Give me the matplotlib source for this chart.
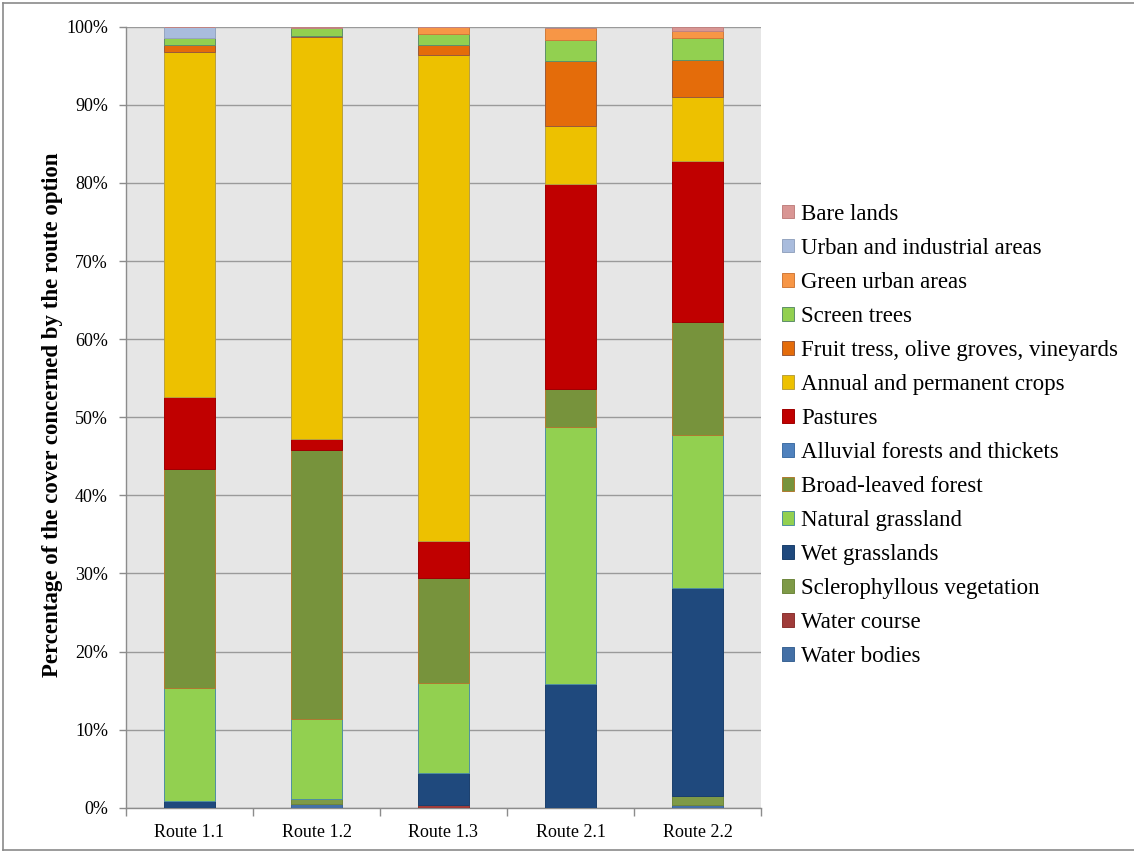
import matplotlib
matplotlib.use("Agg")
import matplotlib.pyplot as plt
import numpy as np
from matplotlib.patches import Patch
from matplotlib.lines import Line2D
from matplotlib.ticker import PercentFormatter, FixedLocator

routes = ["Route 1.1", "Route 1.2", "Route 1.3", "Route 2.1", "Route 2.2"]

# Land-cover shares (% of the corridor) per route, bottom of the stack first
water_bodies      = [0.0, 0.5, 0.0, 0.0, 0.35]
water_course      = [0.0, 0.0, 0.3, 0.0, 0.0]
sclerophyllous    = [0.0, 0.65, 0.0, 0.0, 1.15]
wet_grasslands    = [0.8, 0.0, 4.1, 15.9, 26.6]
natural_grassland = [14.5, 10.15, 11.6, 32.8, 19.6]
broad_leaved      = [28.1, 34.5, 13.4, 4.9, 14.5]
alluvial          = [0.0, 0.0, 0.0, 0.0, 0.0]
pastures          = [9.2, 1.4, 4.7, 26.2, 20.6]
annual_crops      = [44.1, 51.5, 62.3, 7.5, 8.2]
fruit_trees       = [0.9, 0.1, 1.2, 8.3, 4.7]
screen_trees      = [1.0, 1.0, 1.5, 2.7, 2.9]
green_urban       = [0.0, 0.0, 0.9, 1.5, 0.9]
urban_industrial  = [1.4, 0.0, 0.0, 0.0, 0.0]
bare_lands        = [0.0, 0.2, 0.0, 0.0, 0.5]

series = [
    ("Water bodies", water_bodies, "#4470A6", "#3A6494"),
    ("Water course", water_course, "#A03C3A", "#8A3230"),
    ("Sclerophyllous vegetation", sclerophyllous, "#7E9A47", "#6E873C"),
    ("Wet grasslands", wet_grasslands, "#1F497D", "#1A3F6C"),
    ("Natural grassland", natural_grassland, "#92D050", "#4F8FA0"),
    ("Broad-leaved forest", broad_leaved, "#77933C", "#B07A30"),
    ("Alluvial forests and thickets", alluvial, "#4F81BD", "#3F6FA5"),
    ("Pastures", pastures, "#C00000", "#A00000"),
    ("Annual and permanent crops", annual_crops, "#EDC100", "#B8A040"),
    ("Fruit tress, olive groves, vineyards", fruit_trees, "#E46C0A", "#9A5A3A"),
    ("Screen trees", screen_trees, "#92D050", "#5E8F6A"),
    ("Green urban areas", green_urban, "#F79646", "#D07A3A"),
    ("Urban and industrial areas", urban_industrial, "#A9BCDD", "#95A5C0"),
    ("Bare lands", bare_lands, "#D99694", "#C08280"),
]

serif = ["Liberation Serif", "DejaVu Serif"]

fig = plt.figure(figsize=(11.34, 8.52), dpi=100)
ax = fig.add_axes([126 / 1134, 1 - 807.7 / 852, (761 - 126) / 1134, (807.7 - 26.7) / 852])
ax.set_facecolor("#E6E6E6")

x = np.arange(len(routes))
bottom = np.zeros(len(routes))
for name, vals, color, edge in series:
    v = np.array(vals, dtype=float)
    ax.bar(x, v, width=0.4, bottom=bottom, color=color, edgecolor=edge,
           linewidth=0.7, zorder=3, label=name)
    bottom += v

ax.set_xlim(-0.5, len(routes) - 0.5)
ax.set_ylim(0, 100)
ax.yaxis.set_major_locator(FixedLocator(np.arange(0, 101, 10)))
ax.yaxis.set_major_formatter(PercentFormatter(decimals=0))
ax.grid(axis="y", color="#9A9A9A", linewidth=1.0, zorder=1)
ax.set_xticks(x)
ax.set_xticklabels(routes)
ax.set_xticks(np.arange(-0.5, len(routes)), minor=True)
ax.tick_params(axis="x", which="major", length=0, pad=12)
ax.tick_params(axis="x", which="minor", length=6, color="#8C8C8C", width=1)
ax.tick_params(axis="y", length=5, color="#8C8C8C", width=1, pad=8)
for lab in ax.get_xticklabels() + ax.get_yticklabels():
    lab.set_family(serif)
    lab.set_fontsize(13)
for side in ("top", "right"):
    ax.spines[side].set_visible(False)
for side in ("left", "bottom"):
    ax.spines[side].set_color("#8C8C8C")
    ax.spines[side].set_linewidth(1.0)

fig.text(53 / 1134, 1 - 415 / 852, "Percentage of the cover concerned by the route option",
         rotation=90, ha="center", va="center", fontsize=16.5, fontweight="bold",
         family=serif)

handles = [Patch(facecolor=c, edgecolor=e, linewidth=0.7, label=n)
           for n, _, c, e in series][::-1]
fig.legend(handles=handles, loc="upper left",
           bbox_to_anchor=(777 / 1134, 1 - 199 / 852), frameon=False,
           prop={"family": serif, "size": 16.5}, handlelength=0.55,
           handleheight=0.55, handletextpad=0.3, labelspacing=0.57,
           borderpad=0.2, borderaxespad=0)

# Outer frame of the figure
frame_color = "#8A8A8A"
fig.add_artist(Line2D([2.5 / 1134, 2.5 / 1134], [2.5 / 852, 1 - 2.5 / 852],
                      color=frame_color, lw=1.2, transform=fig.transFigure))
fig.add_artist(Line2D([2.5 / 1134, 1], [1 - 2.5 / 852, 1 - 2.5 / 852],
                      color=frame_color, lw=1.2, transform=fig.transFigure))
fig.add_artist(Line2D([2.5 / 1134, 1], [2.5 / 852, 2.5 / 852],
                      color=frame_color, lw=1.2, transform=fig.transFigure))

fig.savefig("out.png", dpi=100)
